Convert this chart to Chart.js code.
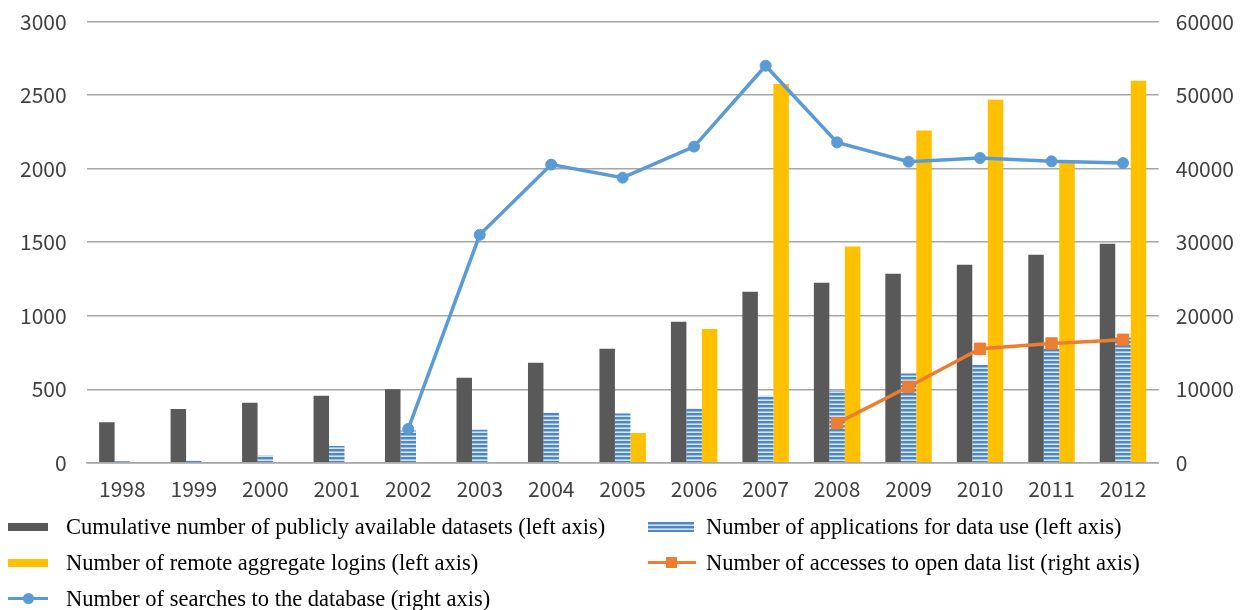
<!DOCTYPE html>
<html><head><meta charset="utf-8">
<script src="https://cdn.jsdelivr.net/npm/chart.js@4/dist/chart.umd.min.js"></script>
<style>
html,body{margin:0;padding:0;background:#fff;width:1245px;height:610px;overflow:hidden;position:relative;}
#wrap{position:absolute;left:-18px;top:-11px;width:1276px;height:527px;}
#legend{position:absolute;left:0;top:505px;width:1245px;height:105px;font-family:"Liberation Serif","Times New Roman",serif;font-size:22.5px;color:#000;}
.item{position:absolute;height:30px;line-height:30px;white-space:nowrap;}
.sw{position:absolute;top:0;width:44px;height:30px;}
.lbl{position:absolute;left:58px;top:0;}
</style></head>
<body>
<div id="wrap"><canvas id="c"></canvas></div>
<div id="legend"></div>
<script>
const years = ['1998','1999','2000','2001','2002','2003','2004','2005','2006','2007','2008','2009','2010','2011','2012'];
const cumulativeDatasets = [275,365,408,456,500,578,680,776,959,1163,1224,1286,1347,1415,1490];
const applications = [10,15,50,115,220,225,342,335,370,456,490,607,667,784,852];
const remoteLogins = [null,null,null,null,null,null,null,202,909,2576,1470,2259,2469,2043,2598];
const searches = [null,null,null,null,4600,31000,40550,38780,43000,54000,43580,40950,41450,41000,40770];
const openDataAccesses = [null,null,null,null,null,null,null,null,null,null,5400,10340,15510,16230,16735];
const leftTicks = [0,500,1000,1500,2000,2500,3000];
const rightTicks = [0,10000,20000,30000,40000,50000,60000];

const labels = {
  cum: 'Cumulative number of publicly available datasets (left axis)',
  app: 'Number of applications for data use (left axis)',
  rem: 'Number of remote aggregate logins (left axis)',
  acc: 'Number of accesses to open data list (right axis)',
  sea: 'Number of searches to the database (right axis)'
};

function stripePattern(){
  const p = document.createElement('canvas');
  p.width = 4; p.height = 4;
  const g = p.getContext('2d');
  g.fillStyle = '#d6e4f3'; g.fillRect(0,0,4,4);
  g.fillStyle = '#4f86c6'; g.fillRect(0,0,4,2);
  g.fillStyle = '#9bbfe4'; g.fillRect(0,2,4,1);
  return document.getElementById('c').getContext('2d').createPattern(p,'repeat');
}
const stripes = stripePattern();

const tickFont = {family:'"Noto Sans CJK KR","Noto Sans",sans-serif', size:21};
const tickColor = '#404040';
const plain = v => String(v);

new Chart(document.getElementById('c'), {
  data: {
    labels: years,
    datasets: [
      {type:'line', label:labels.sea, data:searches, yAxisID:'yR', borderColor:'#5b9bd5', backgroundColor:'#5b9bd5', borderWidth:3.5, pointRadius:5.5, pointBorderWidth:1, pointHoverRadius:5.5, pointStyle:'circle', order:0},
      {type:'line', label:labels.acc, data:openDataAccesses, yAxisID:'yR', borderColor:'#ed7d31', backgroundColor:'#ed7d31', borderWidth:3.5, pointRadius:8, pointBorderWidth:1, pointHoverRadius:8, pointStyle:'rect', order:0},
      {type:'bar', label:labels.cum, data:cumulativeDatasets, yAxisID:'yL', backgroundColor:'#595959', borderWidth:0, barPercentage:1, categoryPercentage:0.65, order:1},
      {type:'bar', label:labels.app, data:applications, yAxisID:'yL', backgroundColor:stripes, borderWidth:0, barPercentage:1, categoryPercentage:0.65, order:1},
      {type:'bar', label:labels.rem, data:remoteLogins, yAxisID:'yL', backgroundColor:'#ffc000', borderWidth:0, barPercentage:1, categoryPercentage:0.65, order:1}
    ]
  },
  options: {
    responsive:true, maintainAspectRatio:false, animation:false,
    layout:{padding:{left:18,right:7,top:0,bottom:0}},
    plugins:{legend:{display:false}, tooltip:{enabled:false}},
    scales:{
      x:{grid:{display:false, drawTicks:false}, border:{display:true,color:'#a6a6a6',width:1.5},
         ticks:{font:tickFont,color:tickColor,padding:14}},
      yL:{position:'left', min:0, max:3000, afterBuildTicks:(s)=>{s.ticks = leftTicks.map(v=>({value:v}));},
         grid:{color:'#a6a6a6', lineWidth:1.5, drawTicks:false}, border:{display:false},
         ticks:{font:tickFont,color:tickColor,padding:20,callback:plain}},
      yR:{position:'right', min:0, max:60000, afterBuildTicks:(s)=>{s.ticks = rightTicks.map(v=>({value:v}));},
         grid:{display:false, drawTicks:false}, border:{display:false},
         ticks:{font:tickFont,color:tickColor,padding:17,callback:plain}}
    }
  }
});

// HTML legend
const lg = document.getElementById('legend');
function item(x,y,swHtml,text){
  const d = document.createElement('div');
  d.className='item'; d.style.left=x+'px'; d.style.top=y+'px';
  d.innerHTML = '<div class="sw">'+swHtml+'</div><div class="lbl">'+text+'</div>';
  lg.appendChild(d);
}
const rectSw = c => '<div style="position:absolute;left:0;top:11px;width:40px;height:8px;background:'+c+'"></div>';
const stripeSw = '<div style="position:absolute;left:0;top:10px;width:46px;height:10px;background:repeating-linear-gradient(#4f86c6 0 2px,#9bbfe4 2px 3px,#d6e4f3 3px 4px)"></div>';
const lineSw = (c,marker) => '<div style="position:absolute;left:0;top:13px;width:'+(marker==='rect'?48:40)+'px;height:3px;background:'+c+'"></div>' +
  (marker==='rect'
   ? '<div style="position:absolute;left:18px;top:9px;width:11px;height:11px;background:'+c+'"></div>'
   : '<div style="position:absolute;left:15px;top:9px;width:11px;height:11px;border-radius:50%;background:'+c+'"></div>');
item(8,7,rectSw('#595959'),labels.cum);
item(648,7,stripeSw,labels.app);
item(8,43,rectSw('#ffc000'),labels.rem);
item(648,43,lineSw('#ed7d31','rect'),labels.acc);
item(8,79,lineSw('#5b9bd5','circle'),labels.sea);
</script>
</body></html>
